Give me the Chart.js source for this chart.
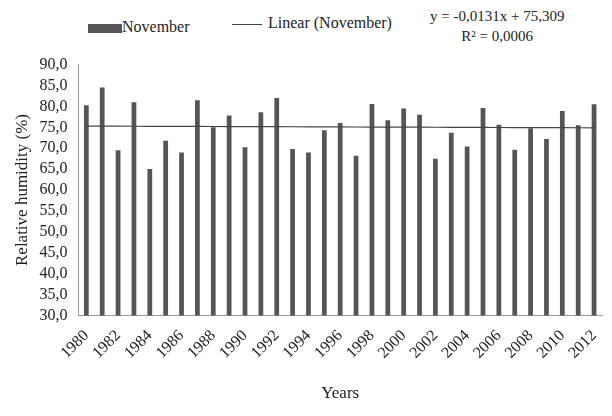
<!DOCTYPE html>
<html><head><meta charset="utf-8">
<script src="https://cdn.jsdelivr.net/npm/chart.js@4"></script>
<style>
body{margin:0;width:612px;height:416px;background:#fff;font-family:"Liberation Serif",serif;position:relative;overflow:hidden}
#wrap{position:absolute;left:0;top:52px;width:612px;height:364px}
.t{position:absolute;font-size:16px;color:#222;white-space:nowrap}
</style></head><body>
<div class="t" style="left:88px;top:18px"><span style="display:inline-block;width:34px;height:9px;background:#555;vertical-align:middle;margin-right:0"></span>November</div>
<div class="t" style="left:232px;top:14px"><span style="display:inline-block;width:30px;height:1px;background:#444;vertical-align:middle;margin-right:6px"></span>Linear (November)</div>
<div class="t" style="left:430px;top:6px;text-align:center;line-height:20px;font-size:15px">y = -0,0131x + 75,309<br>R² = 0,0006</div>
<div id="wrap"><canvas id="c"></canvas></div>
<script>
const years=[1980,1981,1982,1983,1984,1985,1986,1987,1988,1989,1990,1991,1992,1993,1994,1995,1996,1997,1998,1999,2000,2001,2002,2003,2004,2005,2006,2007,2008,2009,2010,2011,2012];
const humidity=[80.3,84.5,69.5,81.0,65.0,71.8,69.0,81.5,75.0,77.8,70.2,78.6,82.0,69.8,69.0,74.3,76.0,68.2,80.6,76.7,79.5,78.0,67.5,73.7,70.4,79.6,75.6,69.6,74.8,72.2,78.9,75.5,80.5];
const slope=-0.0131, intercept=75.309;
const trend=years.map((y,i)=>slope*(i+1)+intercept);
Chart.defaults.font.family='"Liberation Serif", serif';
Chart.defaults.color='#222';
new Chart(document.getElementById('c'),{
 data:{labels:years.map(String),datasets:[
  {type:'line',data:trend,borderColor:'#444',borderWidth:1.2,pointRadius:0,order:0},
  {type:'bar',data:humidity,backgroundColor:'#555',barPercentage:0.3,categoryPercentage:1,order:1}
 ]},
 options:{responsive:true,maintainAspectRatio:false,animation:false,
  layout:{padding:{right:10,top:8,left:8,bottom:8}},
  plugins:{legend:{display:false},tooltip:{enabled:false}},
  scales:{
   x:{grid:{display:false},border:{color:'#999'},
      title:{display:true,text:'Years',font:{size:17},padding:{top:18}},
      ticks:{autoSkip:false,maxRotation:45,minRotation:45,font:{size:16},
        callback:function(v,i){return years[i]%2===0?String(years[i]):'';}}},
   y:{min:30,max:90,grid:{display:false,drawTicks:true},border:{color:'#999'},
      title:{display:true,text:'Relative humidity (%)',font:{size:17}},
      ticks:{stepSize:5,autoSkip:false,font:{size:16},callback:v=>v.toFixed(1).replace('.',',')}}
  }}
});
</script></body></html>
